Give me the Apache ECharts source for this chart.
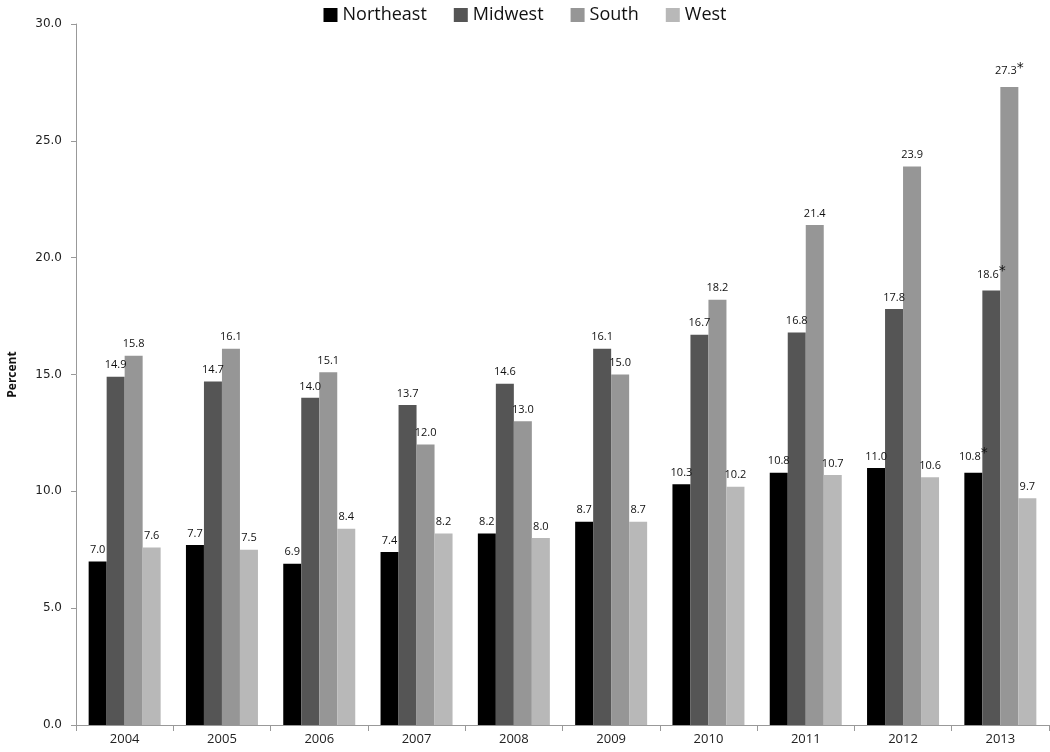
<!DOCTYPE html>
<html><head><meta charset="utf-8">
<script src="https://cdn.jsdelivr.net/npm/echarts@6/dist/echarts.min.js"></script>
<style>html,body{margin:0;padding:0;background:#fff}#c{width:1050px;height:752px}</style>
</head><body><div id="c"></div>
<script>
const years = ['2004','2005','2006','2007','2008','2009','2010','2011','2012','2013'];
const northeast = [7.0, 7.7, 6.9, 7.4, 8.2, 8.7, 10.3, 10.8, 11.0, 10.8];
const midwest = [14.9, 14.7, 14.0, 13.7, 14.6, 16.1, 16.7, 16.8, 17.8, 18.6];
const south = [15.8, 16.1, 15.1, 12.0, 13.0, 15.0, 18.2, 21.4, 23.9, 27.3];
const west = [7.6, 7.5, 8.4, 8.2, 8.0, 8.7, 10.2, 10.7, 10.6, 9.7];
// significance flags (asterisks)
const northeastStar = [0,0,0,0,0,0,0,0,0,1];
const midwestStar = [0,0,0,0,0,0,0,0,0,1];
const southStar = [0,0,0,0,0,0,0,0,0,1];
const westStar = [0,0,0,0,0,0,0,0,0,0];

const chart = echarts.init(document.getElementById('c'));
function mk(name, data, stars, color) {
  return {
    name, type: 'bar', data, barGap: '0%', barCategoryGap: '26%',
    itemStyle: { color },
    label: {
      show: true, position: 'top', distance: 6,
      fontFamily: 'Open Sans', fontSize: 11, color: '#111',
      formatter: p => stars[p.dataIndex] ? '{v|' + p.value.toFixed(1) + '}{s|*}' : p.value.toFixed(1),
      rich: {
        v: { fontFamily: 'Open Sans', fontSize: 11, color: '#111' },
        s: { fontFamily: 'DejaVu Sans', fontSize: 14, color: '#111', verticalAlign: 'bottom', padding: [0,0,6,0] }
      }
    }
  };
}
chart.setOption({
  animation: false,
  textStyle: { fontFamily: 'Open Sans' },
  legend: {
    top: 1, left: 'center', itemWidth: 14, itemHeight: 14, itemGap: 27,
    icon: 'rect',
    textStyle: { fontFamily: 'Open Sans', fontSize: 18, color: '#111' },
    data: ['Northeast','Midwest','South','West']
  },
  grid: { left: 76, right: 1, top: 24, bottom: 27, containLabel: false, outerBoundsMode: 'none' },
  xAxis: {
    type: 'category', data: years,
    axisLine: { lineStyle: { color: '#999' } },
    axisTick: { show: true, length: 6, lineStyle: { color: '#999' } },
    axisLabel: { fontFamily: 'Open Sans', fontSize: 13, color: '#222', margin: 8 }
  },
  yAxis: {
    type: 'value', min: 0, max: 30, interval: 5,
    name: 'Percent', nameLocation: 'middle', nameGap: 57,
    nameTextStyle: { fontFamily: 'Open Sans', fontWeight: 'bold', fontSize: 12, color: '#111' },
    axisLine: { show: true, lineStyle: { color: '#999' } },
    axisTick: { show: true, length: 5, lineStyle: { color: '#999' } },
    splitLine: { show: false },
    axisLabel: { fontFamily: 'DejaVu Sans', fontSize: 12, color: '#222', margin: 14, formatter: v => v.toFixed(1) }
  },
  series: [
    mk('Northeast', northeast, northeastStar, '#000000'),
    mk('Midwest', midwest, midwestStar, '#555555'),
    mk('South', south, southStar, '#969696'),
    mk('West', west, westStar, '#b8b8b8')
  ]
});
</script></body></html>
